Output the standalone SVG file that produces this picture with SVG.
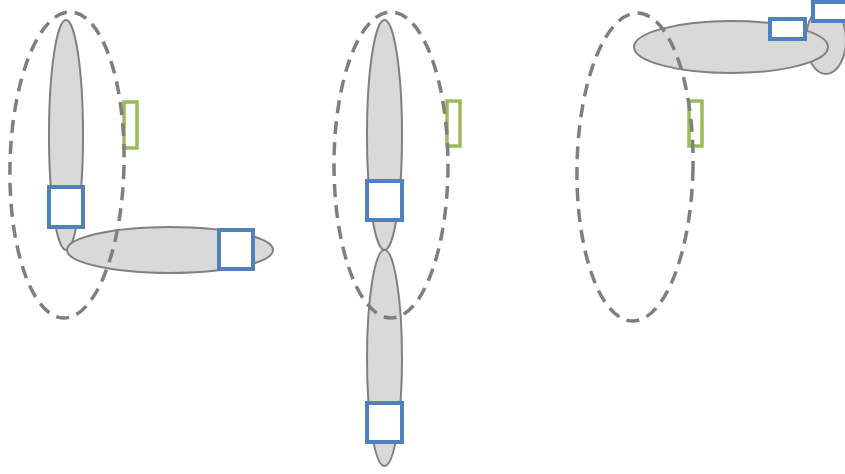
<svg xmlns="http://www.w3.org/2000/svg" width="845" height="474" viewBox="0 0 845 474">
<style>
.seg{fill:#d9d9d9;stroke:#808080;stroke-width:2}
.sq{fill:#ffffff;stroke:#4f81bd;stroke-width:4}
.gr{fill:none;stroke:#9bbb59;stroke-width:3.5}
.dash{fill:none;stroke:#7f7f7f;stroke-width:3.5;stroke-dasharray:13 8}
</style>
<rect width="845" height="474" fill="#ffffff"/>
<g id="fig1">
  <g id="fig1-arm-vertical"><ellipse class="seg" cx="66" cy="135" rx="17" ry="115"/></g>
  <g id="fig1-arm-horizontal"><ellipse class="seg" cx="170" cy="250" rx="103" ry="23"/></g>
  <g id="fig1-joint1"><rect class="sq" x="49" y="187" width="34" height="40"/></g>
  <g id="fig1-joint2"><rect class="sq" x="219" y="230" width="34" height="39"/></g>
  <g id="fig1-marker"><rect class="gr" x="124" y="102" width="13" height="46"/></g>
  <g id="fig1-range"><ellipse class="dash" cx="67" cy="165" rx="57" ry="153" transform="rotate(1.3 67 165)"/></g>
</g>
<g id="fig2">
  <g id="fig2-arm-upper"><ellipse class="seg" cx="384.5" cy="135" rx="17.5" ry="115"/></g>
  <g id="fig2-arm-lower"><ellipse class="seg" cx="384.5" cy="358" rx="17.5" ry="108"/></g>
  <g id="fig2-joint1"><rect class="sq" x="367" y="181" width="35" height="39"/></g>
  <g id="fig2-joint2"><rect class="sq" x="367" y="403" width="35" height="39"/></g>
  <g id="fig2-marker"><rect class="gr" x="447" y="101" width="13" height="45"/></g>
  <g id="fig2-range"><ellipse class="dash" cx="391" cy="165" rx="57" ry="153"/></g>
</g>
<g id="fig3">
  <g id="fig3-arm-back"><ellipse class="seg" cx="826" cy="40" rx="20" ry="34"/></g>
  <g id="fig3-arm-horizontal"><ellipse class="seg" cx="731" cy="47" rx="97" ry="26"/></g>
  <g id="fig3-joint1"><rect class="sq" x="770" y="19" width="35" height="20"/></g>
  <g id="fig3-joint2"><rect class="sq" x="813" y="2" width="40" height="19"/></g>
  <g id="fig3-marker"><rect class="gr" x="689" y="101" width="13" height="45"/></g>
  <g id="fig3-range"><ellipse class="dash" cx="635" cy="167" rx="58" ry="154" transform="rotate(1 635 167)"/></g>
</g>
<g id="connectors"></g>
</svg>
